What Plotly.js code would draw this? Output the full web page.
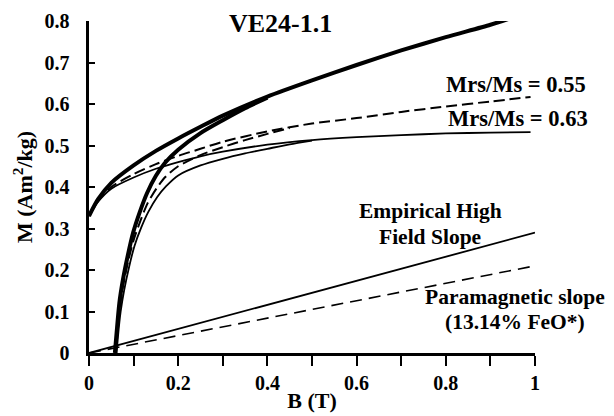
<!DOCTYPE html>
<html>
<head>
<meta charset="utf-8">
<script src="https://cdn.plot.ly/plotly-3.0.1.min.js"></script>
<style>html,body{margin:0;padding:0;background:#fff;}#chart{width:614px;height:416px;}</style>
</head>
<body>
<div id="chart"></div>
<script>
// Original (uncorrected) loop, descending (upper) branch
const B_thickUpper = [0, 0.02, 0.05, 0.1, 0.15, 0.2, 0.25, 0.3, 0.4, 0.5, 0.6, 0.7, 0.8, 0.9, 0.955];
const M_thickUpper = [0.33, 0.37, 0.41, 0.452, 0.487, 0.517, 0.545, 0.572, 0.618, 0.657, 0.694, 0.729, 0.761, 0.791, 0.81];
// Original loop, ascending (lower) branch
const B_thickLower = [0.058, 0.062, 0.068, 0.076, 0.087, 0.099, 0.114, 0.13, 0.15, 0.17, 0.2, 0.25, 0.3, 0.35, 0.4];
const M_thickLower = [0.0, 0.05, 0.12, 0.176, 0.235, 0.29, 0.34, 0.385, 0.427, 0.458, 0.49, 0.53, 0.561, 0.59, 0.615];
// Paramagnetic-corrected loop (Mrs/Ms = 0.55), dashed
const B_dashUpper = [0, 0.02, 0.05, 0.1, 0.15, 0.2, 0.25, 0.3, 0.4, 0.5, 0.6, 0.7, 0.8, 0.9, 0.99];
const M_dashUpper = [0.33, 0.366, 0.4, 0.431, 0.455, 0.475, 0.492, 0.509, 0.534, 0.553, 0.566, 0.581, 0.594, 0.606, 0.617];
const B_dashLower = [0.06, 0.063, 0.069, 0.077, 0.088, 0.1, 0.115, 0.131, 0.151, 0.171, 0.2, 0.25, 0.3, 0.35, 0.4, 0.45];
const M_dashLower = [0.0, 0.045, 0.11, 0.165, 0.222, 0.272, 0.318, 0.36, 0.396, 0.424, 0.45, 0.477, 0.496, 0.513, 0.528, 0.542];
// Empirical-slope-corrected loop (Mrs/Ms = 0.63), thin solid
const B_thinUpper = [0, 0.02, 0.05, 0.1, 0.15, 0.2, 0.25, 0.3, 0.4, 0.5, 0.6, 0.7, 0.8, 0.9, 0.99];
const M_thinUpper = [0.33, 0.364, 0.396, 0.423, 0.444, 0.46, 0.474, 0.485, 0.502, 0.513, 0.52, 0.525, 0.529, 0.531, 0.532];
const B_thinLower = [0.062, 0.065, 0.071, 0.079, 0.09, 0.102, 0.117, 0.133, 0.153, 0.173, 0.2, 0.25, 0.3, 0.35, 0.4, 0.45, 0.5];
const M_thinLower = [0.0, 0.04, 0.1, 0.152, 0.208, 0.258, 0.302, 0.34, 0.376, 0.402, 0.428, 0.452, 0.468, 0.481, 0.492, 0.503, 0.512];
// High-field slope lines
const B_slope = [0, 1];
const M_empirical = [0, 0.29];
const M_paramagnetic = [0, 0.21];
// Ticks
const xTickVals = [0, 0.2, 0.4, 0.6, 0.8, 1];
const xTickText = ['0', '0.2', '0.4', '0.6', '0.8', '1'];
const xMinorTickVals = [0.1, 0.3, 0.5, 0.7, 0.9];
const yTickVals = [0, 0.1, 0.2, 0.3, 0.4, 0.5, 0.6, 0.7, 0.8];
const yTickText = ['0', '0.1', '0.2', '0.3', '0.4', '0.5', '0.6', '0.7', '0.8'];

const FONT = '"Liberation Serif", "Times New Roman", serif';
const line = (x, y, width, dash) => ({
  x: x, y: y, type: 'scatter', mode: 'lines', hoverinfo: 'skip', showlegend: false,
  line: {color: '#000', width: width, dash: dash || 'solid', shape: 'spline', smoothing: 0.7}
});

const traces = [
  line(B_slope, M_empirical, 1.8),
  line(B_slope, M_paramagnetic, 1.6, '12px,7px'),
  line(B_thinUpper, M_thinUpper, 1.8),
  line(B_thinLower, M_thinLower, 1.8),
  line(B_dashUpper, M_dashUpper, 2, '11px,5px'),
  line(B_dashLower, M_dashLower, 2, '11px,5px'),
  line(B_thickUpper, M_thickUpper, 4),
  line(B_thickLower, M_thickLower, 4)
];

const ann = (text, x, y, size) => ({
  text: text, x: x, y: y, xref: 'x', yref: 'y', showarrow: false,
  xanchor: 'center', yanchor: 'middle',
  font: {family: FONT, size: size, color: '#000', weight: 'bold'}
});

const layout = {
  width: 614, height: 416,
  margin: {l: 89, r: 79, t: 21, b: 63},
  paper_bgcolor: '#fff', plot_bgcolor: '#fff',
  font: {family: FONT, color: '#000', weight: 'bold'},
  xaxis: {
    range: [0, 1], showgrid: false, zeroline: false,
    showline: true, linewidth: 2.6, linecolor: '#000',
    ticks: 'outside', ticklen: 10, tickwidth: 2, tickcolor: '#000',
    tickmode: 'array', tickvals: xTickVals, ticktext: xTickText,
    minor: {tickmode: 'array', tickvals: xMinorTickVals, ticks: 'outside', ticklen: 10, tickwidth: 2, tickcolor: '#000', showgrid: false},
    tickfont: {family: FONT, size: 20, weight: 'bold'},
    title: {text: 'B (T)', font: {family: FONT, size: 22, weight: 'bold'}, standoff: 0}
  },
  yaxis: {
    range: [0, 0.8], showgrid: false, zeroline: false,
    showline: true, linewidth: 2.6, linecolor: '#000',
    ticks: 'inside', ticklen: 6, tickwidth: 2, tickcolor: '#000',
    tickmode: 'array', tickvals: yTickVals, ticktext: yTickText,
    ticklabelstandoff: 13,
    tickfont: {family: FONT, size: 20, weight: 'bold'},
    title: {text: 'M (Am<sup>2</sup>/kg)', font: {family: FONT, size: 22, weight: 'bold'}, standoff: 6}
  },
  annotations: [
    ann('VE24-1.1', 0.43, 0.795, 26),
    ann('Mrs/Ms = 0.55', 0.958, 0.648, 22.5),
    ann('Mrs/Ms = 0.63', 0.962, 0.564, 22.5),
    ann('Empirical High', 0.765, 0.341, 21.5),
    ann('Field Slope', 0.765, 0.28, 21.5),
    ann('Paramagnetic slope', 0.955, 0.136, 21.5),
    ann('(13.14% FeO*)', 0.955, 0.075, 21.5)
  ]
};

Plotly.newPlot('chart', traces, layout, {displayModeBar: false, staticPlot: true});
</script>
</body>
</html>
